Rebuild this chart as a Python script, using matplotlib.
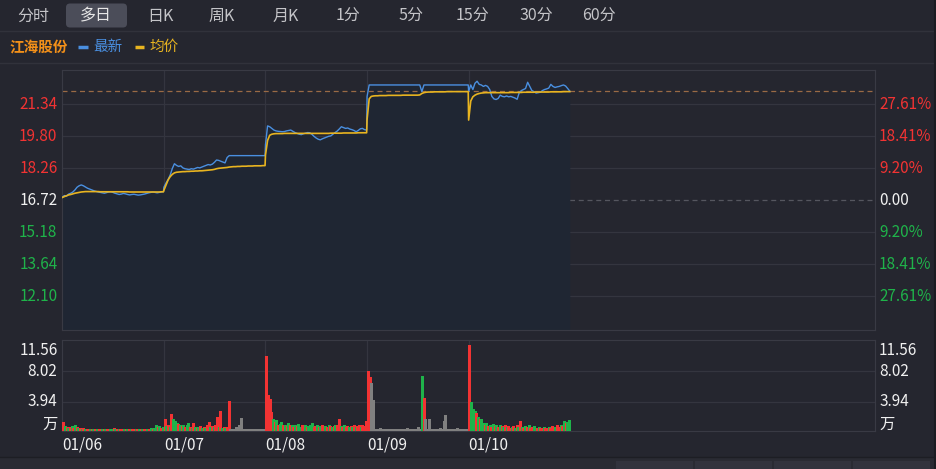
import matplotlib
matplotlib.use("Agg")
import matplotlib.pyplot as plt
import numpy as np
from matplotlib.patches import FancyBboxPatch, Rectangle

plt.rcParams['font.family'] = ['Noto Sans CJK SC', 'DejaVu Sans']

# ---- data ----
stock_name = "江海股份"
tabs = ["分时", "多日", "日K", "周K", "月K", "1分", "5分", "15分", "30分", "60分"]
tab_x = [33, 96, 160, 222, 286, 348, 411, 473, 536, 599]
selected_tab = 1
dates = ["01/06", "01/07", "01/08", "01/09", "01/10"]
prev_close = 16.72

price_levels = [21.34, 19.80, 18.26, 16.72, 15.18, 13.64, 12.10]
price_labels = ["21.34", "19.80", "18.26", "16.72", "15.18", "13.64", "12.10"]
pct_labels = ["27.61%", "18.41%", "9.20%", "0.00", "9.20%", "18.41%", "27.61%"]
vol_levels = [8.02, 3.94]
vol_labels = ["11.56", "8.02", "3.94", "万"]

# price every 5 minutes, 49 points per day
price1 = [16.86, 16.95, 16.92, 17.02, 17.06, 17.12, 17.22, 17.35, 17.42, 17.46,
          17.42, 17.36, 17.30, 17.26, 17.22, 17.18, 17.15, 17.12, 17.10, 17.08,
          17.06, 17.09, 17.12, 17.13, 17.10, 17.06, 17.03, 17.00, 17.02, 17.05,
          17.03, 17.00, 16.98, 17.00, 17.01, 16.99, 16.97, 16.98, 17.00, 17.02,
          17.05, 17.08, 17.10, 17.12, 17.10, 17.08, 17.10, 17.12, 17.14]
price2 = [17.35, 17.55, 17.72, 17.94, 18.25, 18.48, 18.40, 18.35, 18.38, 18.28,
          18.24, 18.22, 18.20, 18.24, 18.22, 18.26, 18.30, 18.28, 18.32, 18.36,
          18.40, 18.44, 18.42, 18.46, 18.55, 18.66, 18.64, 18.60, 18.56, 18.52,
          18.78, 18.87, 18.87, 18.87, 18.87, 18.87, 18.87, 18.87, 18.87, 18.87,
          18.87, 18.87, 18.87, 18.87, 18.87, 18.87, 18.87, 18.87, 18.87]
price3 = [19.40, 20.30, 20.26, 20.18, 20.10, 20.06, 20.04, 20.03, 20.02, 20.03,
          20.06, 20.08, 20.10, 20.04, 19.98, 19.94, 19.90, 19.88, 19.92, 19.95,
          19.98, 19.97, 19.90, 19.80, 19.72, 19.66, 19.63, 19.68, 19.72, 19.76,
          19.80, 19.82, 19.90, 19.98, 20.05, 20.15, 20.26, 20.22, 20.18, 20.20,
          20.15, 20.12, 20.08, 20.02, 20.08, 20.16, 20.18, 20.12, 20.10]
price4 = [21.71, 22.27, 22.27, 22.27, 22.27, 22.27, 22.27, 22.27, 22.27, 22.27,
          22.27, 22.27, 22.27, 22.27, 22.27, 22.27, 22.27, 22.27, 22.27, 22.27,
          22.27, 22.27, 22.27, 22.27, 22.27, 22.27, 21.95, 22.27, 22.27, 22.27,
          22.27, 22.27, 22.27, 22.27, 22.27, 22.27, 22.27, 22.27, 22.27, 22.27,
          22.27, 22.27, 22.27, 22.27, 22.27, 22.27, 22.27, 22.27, 22.27]
price5 = [21.95, 22.27, 22.05, 22.35, 22.45, 22.30, 22.27, 22.20, 22.25, 22.20,
          22.05, 21.72, 21.60, 21.57, 21.62, 21.78, 21.72, 21.70, 21.74, 21.70,
          21.72, 21.68, 21.64, 21.58, 21.90, 22.00, 22.05, 22.10, 22.40, 22.20,
          22.00, 21.95, 21.88, 21.90, 21.92, 22.00, 22.05, 22.08, 22.12, 22.30,
          22.20, 22.15, 22.18, 22.20, 22.24, 22.27, 22.22, 22.10, 21.97]

avg1 = [16.86, 16.90, 16.94, 16.98, 17.00, 17.03, 17.06, 17.08, 17.10, 17.12,
        17.13, 17.14, 17.14, 17.14, 17.14, 17.14, 17.14, 17.14, 17.13, 17.13,
        17.13, 17.13, 17.13, 17.13, 17.13, 17.13, 17.13, 17.13, 17.13, 17.13,
        17.13, 17.13, 17.12, 17.12, 17.12, 17.12, 17.12, 17.12, 17.12, 17.12,
        17.12, 17.12, 17.12, 17.12, 17.12, 17.12, 17.12, 17.13, 17.13]
avg2 = [17.20, 17.45, 17.70, 17.86, 17.97, 18.04, 18.07, 18.08, 18.09, 18.10,
        18.10, 18.11, 18.11, 18.12, 18.12, 18.13, 18.13, 18.14, 18.14, 18.15,
        18.16, 18.17, 18.18, 18.19, 18.21, 18.24, 18.26, 18.27, 18.28, 18.29,
        18.30, 18.32, 18.33, 18.34, 18.34, 18.35, 18.35, 18.36, 18.36, 18.36,
        18.37, 18.37, 18.37, 18.38, 18.38, 18.38, 18.38, 18.39, 18.39]
avg3 = [18.90, 19.60, 19.85, 19.90, 19.92, 19.93, 19.93, 19.93, 19.93, 19.94,
        19.94, 19.94, 19.94, 19.94, 19.94, 19.94, 19.94, 19.94, 19.94, 19.94,
        19.94, 19.94, 19.94, 19.94, 19.94, 19.94, 19.94, 19.94, 19.94, 19.94,
        19.94, 19.95, 19.95, 19.95, 19.95, 19.95, 19.95, 19.96, 19.96, 19.96,
        19.96, 19.96, 19.96, 19.96, 19.97, 19.97, 19.97, 19.97, 19.97]
avg4 = [20.60, 21.60, 21.72, 21.74, 21.75, 21.75, 21.76, 21.76, 21.76, 21.76,
        21.77, 21.77, 21.77, 21.77, 21.77, 21.77, 21.77, 21.78, 21.78, 21.78,
        21.78, 21.78, 21.78, 21.78, 21.78, 21.79, 21.86, 21.90, 21.92, 21.93,
        21.93, 21.93, 21.94, 21.94, 21.94, 21.94, 21.94, 21.94, 21.95, 21.95,
        21.95, 21.95, 21.95, 21.95, 21.95, 21.95, 21.95, 21.95, 21.95]
avg5 = [20.58, 21.50, 21.70, 21.78, 21.83, 21.86, 21.88, 21.89, 21.90, 21.90,
        21.90, 21.90, 21.90, 21.90, 21.90, 21.90, 21.90, 21.90, 21.90, 21.90,
        21.91, 21.91, 21.91, 21.91, 21.91, 21.91, 21.92, 21.92, 21.92, 21.92,
        21.92, 21.92, 21.93, 21.93, 21.93, 21.93, 21.93, 21.93, 21.93, 21.94,
        21.94, 21.94, 21.94, 21.94, 21.94, 21.95, 21.95, 21.95, 21.95]

# volume (万) in 4-minute bins, 60 per day; r=up, g=down, n=flat
vol1 = [1.3, 0.7, 0.6, 0.5, 0.6, 0.75, 0.5, 0.8, 0.6, 0.5,
        0.4, 0.35, 0.4, 0.3, 0.35, 0.3, 0.3, 0.35, 0.3, 0.25,
        0.3, 0.3, 0.25, 0.3, 0.35, 0.3, 0.3, 0.25, 0.3, 0.35,
        0.4, 0.3, 0.3, 0.25, 0.3, 0.3, 0.35, 0.3, 0.25, 0.3,
        0.3, 0.35, 0.3, 0.3, 0.25, 0.3, 0.3, 0.3, 0.35, 0.3,
        0.3, 0.35, 0.4, 0.35, 0.5, 0.8, 0.6, 0.7, 0.5, 0.6]
vol2 = [1.6, 0.7, 0.8, 0.6, 2.3, 1.7, 1.4, 1.1, 1.0, 0.9,
        0.7, 0.8, 0.6, 0.9, 1.1, 0.6, 0.5, 1.15, 0.6, 0.5,
        0.6, 0.7, 0.5, 0.6, 0.5, 0.8, 1.2, 0.6, 0.7, 0.6,
        0.8, 1.9, 0.6, 2.7, 0.5, 0.6, 0.5, 0.6, 4.05, 0.3,
        0.3, 0.3, 0.6, 0.3, 0.85, 1.8, 0.3, 0.3, 0.3, 0.3,
        0.3, 0.3, 0.3, 0.3, 0.3, 0.3, 0.3, 0.3, 0.3, 0.3]
vol3 = [10.06, 4.85, 4.3, 2.6, 1.6, 1.3, 1.5, 0.9, 1.0, 1.2,
        0.8, 0.9, 0.7, 1.1, 0.8, 0.9, 0.6, 0.8, 0.7, 1.0,
        0.6, 0.8, 0.7, 0.9, 0.6, 0.7, 0.8, 1.1, 0.6, 0.7,
        0.9, 0.6, 0.7, 0.8, 0.6, 0.7, 0.6, 0.8, 0.7, 0.6,
        0.7, 0.8, 0.9, 1.65, 0.7, 0.6, 0.8, 0.6, 0.7, 0.6,
        0.7, 0.6, 0.8, 0.6, 0.7, 0.8, 0.6, 0.85, 0.7, 1.4]
vol4 = [8.05, 7.2, 6.5, 4.2, 0.3, 0.3, 0.3, 0.45, 0.3, 0.3,
        0.3, 0.3, 0.3, 0.3, 0.3, 0.3, 0.3, 0.3, 0.3, 0.3,
        0.3, 0.3, 0.3, 0.45, 0.3, 0.3, 0.3, 0.3, 0.3, 0.3,
        0.6, 0.3, 7.4, 4.5, 1.6, 0.3, 1.6, 0.3, 0.3, 0.3,
        0.3, 0.3, 0.3, 0.5, 0.3, 1.4, 2.2, 0.3, 0.3, 0.3,
        0.3, 0.3, 0.3, 0.4, 0.3, 0.3, 0.3, 0.3, 0.3, 0.3]
vol5 = [11.56, 3.95, 3.0, 2.7, 2.4, 1.85, 1.6, 1.7, 1.15, 0.85,
        1.1, 0.7, 0.9, 0.6, 1.0, 0.7, 0.8, 0.6, 0.9, 0.7,
        0.6, 0.8, 0.6, 0.7, 0.5, 0.6, 0.7, 0.5, 0.8, 0.6,
        1.4, 0.6, 0.5, 0.7, 0.6, 0.8, 0.5, 0.6, 0.7, 0.5,
        0.5, 0.6, 0.4, 0.5, 0.6, 0.4, 0.5, 0.6, 0.5, 0.7,
        0.5, 0.6, 0.8, 0.6, 0.9, 0.7, 1.4, 1.1, 1.3, 1.5]
dir1 = "rgrgrgrgrg" "rgrgrrgrgr" "grrgrgrrgg" "rgrgrrgrgr" "grrgrgrgrr" "grgrggrgrg"
dir2 = "rgrgrgggrg" "rgrggrgrgr" "grgrgrrgrg" "rrgrgrgrrn" "nnnnnnnnnn" "nnnnnnnnnn"
dir3 = "rrrrgrgrgg" "rgrgrgrgrg" "grrgrgggrr" "grgrrgrgrg" "rgrrgrgrrg" "rgrgrrgrrr"
dir4 = "rrnn" + "n" * 28 + "gr" + "n" * 26
dir5 = "rgggrgrggr" "grgrgrgrgr" "grgrrgrgrg" "rgrgrgrrgg" "rgrrgrrgrr" "rgrrgrgrgg"

# ---- styling ----
W, H = 937, 469
BG = "#25262f"
GRID = "#34353f"
RED = "#f23333"
GREEN = "#1fb34a"
GRAY = "#808080"
BLUE = "#4a8fe0"
GOLD = "#e8b420"
TXT = "#f0f0f0"
MIN_PER_DAY = 241
N_DAYS = 8

prices = [price1, price2, price3, price4, price5]
avgs = [avg1, avg2, avg3, avg4, avg5]
vols = [vol1, vol2, vol3, vol4, vol5]
dirs = [dir1, dir2, dir3, dir4, dir5]

px, pp, pa = [], [], []
for d in range(len(prices)):
    for i in range(len(prices[d])):
        px.append(d * MIN_PER_DAY + i * 5)
        pp.append(prices[d][i])
        pa.append(avgs[d][i])
vx, vv, vc = [], [], []
cmap = {"r": RED, "g": GREEN, "n": GRAY}
for d in range(len(vols)):
    for j in range(len(vols[d])):
        vx.append(d * MIN_PER_DAY + j * 4 + 2)
        vv.append(vols[d][j])
        vc.append(cmap[dirs[d][j]])

fig = plt.figure(figsize=(W / 100, H / 100), dpi=100, facecolor=BG)

# background layer in pixel coords
bg = fig.add_axes([0, 0, 1, 1], zorder=0)
bg.set_xlim(0, W)
bg.set_ylim(H, 0)
bg.axis("off")
bg.add_patch(Rectangle((0, 458), W, 11, color="#2a2b33", lw=0))
bg.plot([0, 935], [31.5, 31.5], color="#31323b", lw=1)
bg.plot([0, 935], [63.5, 63.5], color="#31323b", lw=1)
bg.plot([0, 935], [457.5, 457.5], color="#1d1e24", lw=1)
bg.plot([935.5, 935.5], [0, H], color="#1b1c22", lw=1.5)
for bx in [616, 695, 774, 853]:
    bg.add_patch(Rectangle((bx, 461), 77, 10, color="#32333d", lw=0))

bg.add_patch(FancyBboxPatch((66, 3.5), 61, 24, boxstyle="round,pad=0,rounding_size=4",
                            fc="#4b4d59", ec="none"))
for k, (t, x) in enumerate(zip(tabs, tab_x)):
    bg.text(x, 16, t, ha="center", va="center", fontsize=11.5,
            color="#e6e6e6" if k == selected_tab else "#c4c4c8")

bg.text(10, 47, stock_name, ha="left", va="center", fontsize=10.5,
        fontweight="bold", color="#f39019")
bg.plot([78, 88], [47, 47], color=BLUE, lw=2.5, solid_capstyle="butt")
bg.text(93, 47, "最新", ha="left", va="center", fontsize=10.5, color=BLUE)
bg.plot([135, 144], [47, 47], color=GOLD, lw=2.5, solid_capstyle="butt")
bg.text(149, 47, "均价", ha="left", va="center", fontsize=10.5, color=GOLD)

L, R = 62.3, 875
ax = fig.add_axes([L / W, 1 - 330 / H, (R - L) / W, (330 - 70) / H], zorder=1)
axv = fig.add_axes([L / W, 1 - 431.3 / H, (R - L) / W, (431.3 - 340) / H], zorder=1)

for a in (ax, axv):
    a.set_facecolor("none")
    a.set_xlim(0, N_DAYS * MIN_PER_DAY)
    a.set_xticks([])
    a.set_yticks([])
    for s in a.spines.values():
        s.set_color("#393a44")
        s.set_linewidth(0.8)
    for d in range(1, len(prices)):
        a.axvline(d * MIN_PER_DAY, color=GRID, lw=0.9, zorder=1)

ax.set_ylim(10.48, 22.99)
for lvl in price_levels:
    if lvl == prev_close:
        ax.axhline(lvl, color="#55565f", lw=0.9, ls=(0, (4, 3)), zorder=1)
    else:
        ax.axhline(lvl, color=GRID, lw=0.9, zorder=1)
ax.axhline(pp[-1], color="#9a6a45", lw=0.9, ls=(0, (4, 3)), zorder=2)

ax.fill_between(px, pp, 10.48, color="#1f2633", lw=0, zorder=1.5)
ax.plot(px, pp, color=BLUE, lw=1.0, zorder=3)
ax.plot(px, pa, color=GOLD, lw=1.2, zorder=4)

for lvl, lab, pct in zip(price_levels, price_labels, pct_labels):
    col = RED if lvl > prev_close else (GREEN if lvl < prev_close else TXT)
    ax.text(-0.006, lvl, lab, transform=ax.get_yaxis_transform(), ha="right",
            va="center", fontsize=11, color=col, clip_on=False)
    ax.text(1.005, lvl, pct, transform=ax.get_yaxis_transform(), ha="left",
            va="center", fontsize=11, color=col, clip_on=False)

axv.set_ylim(0, 12.2)
for lvl in vol_levels:
    axv.axhline(lvl, color=GRID, lw=0.9, zorder=1)
axv.vlines(vx, 0, vv, colors=vc, lw=1.0, zorder=3, antialiased=False)

vol_label_y = [0.88, 8.02 / 12.2, 3.94 / 12.2, 0.08]
for lab, yy in zip(vol_labels, vol_label_y):
    for xx, ha in [(-0.006, "right"), (1.005, "left")]:
        axv.text(xx, yy, lab, transform=axv.transAxes, ha=ha, va="center",
                 fontsize=11, color=TXT, clip_on=False)

for d, lab in enumerate(dates):
    axv.text(d * MIN_PER_DAY, -0.15, lab, transform=axv.get_xaxis_transform(),
             ha="left", va="center", fontsize=11, color=TXT, clip_on=False)

fig.savefig("out.png", dpi=100, facecolor=BG)
